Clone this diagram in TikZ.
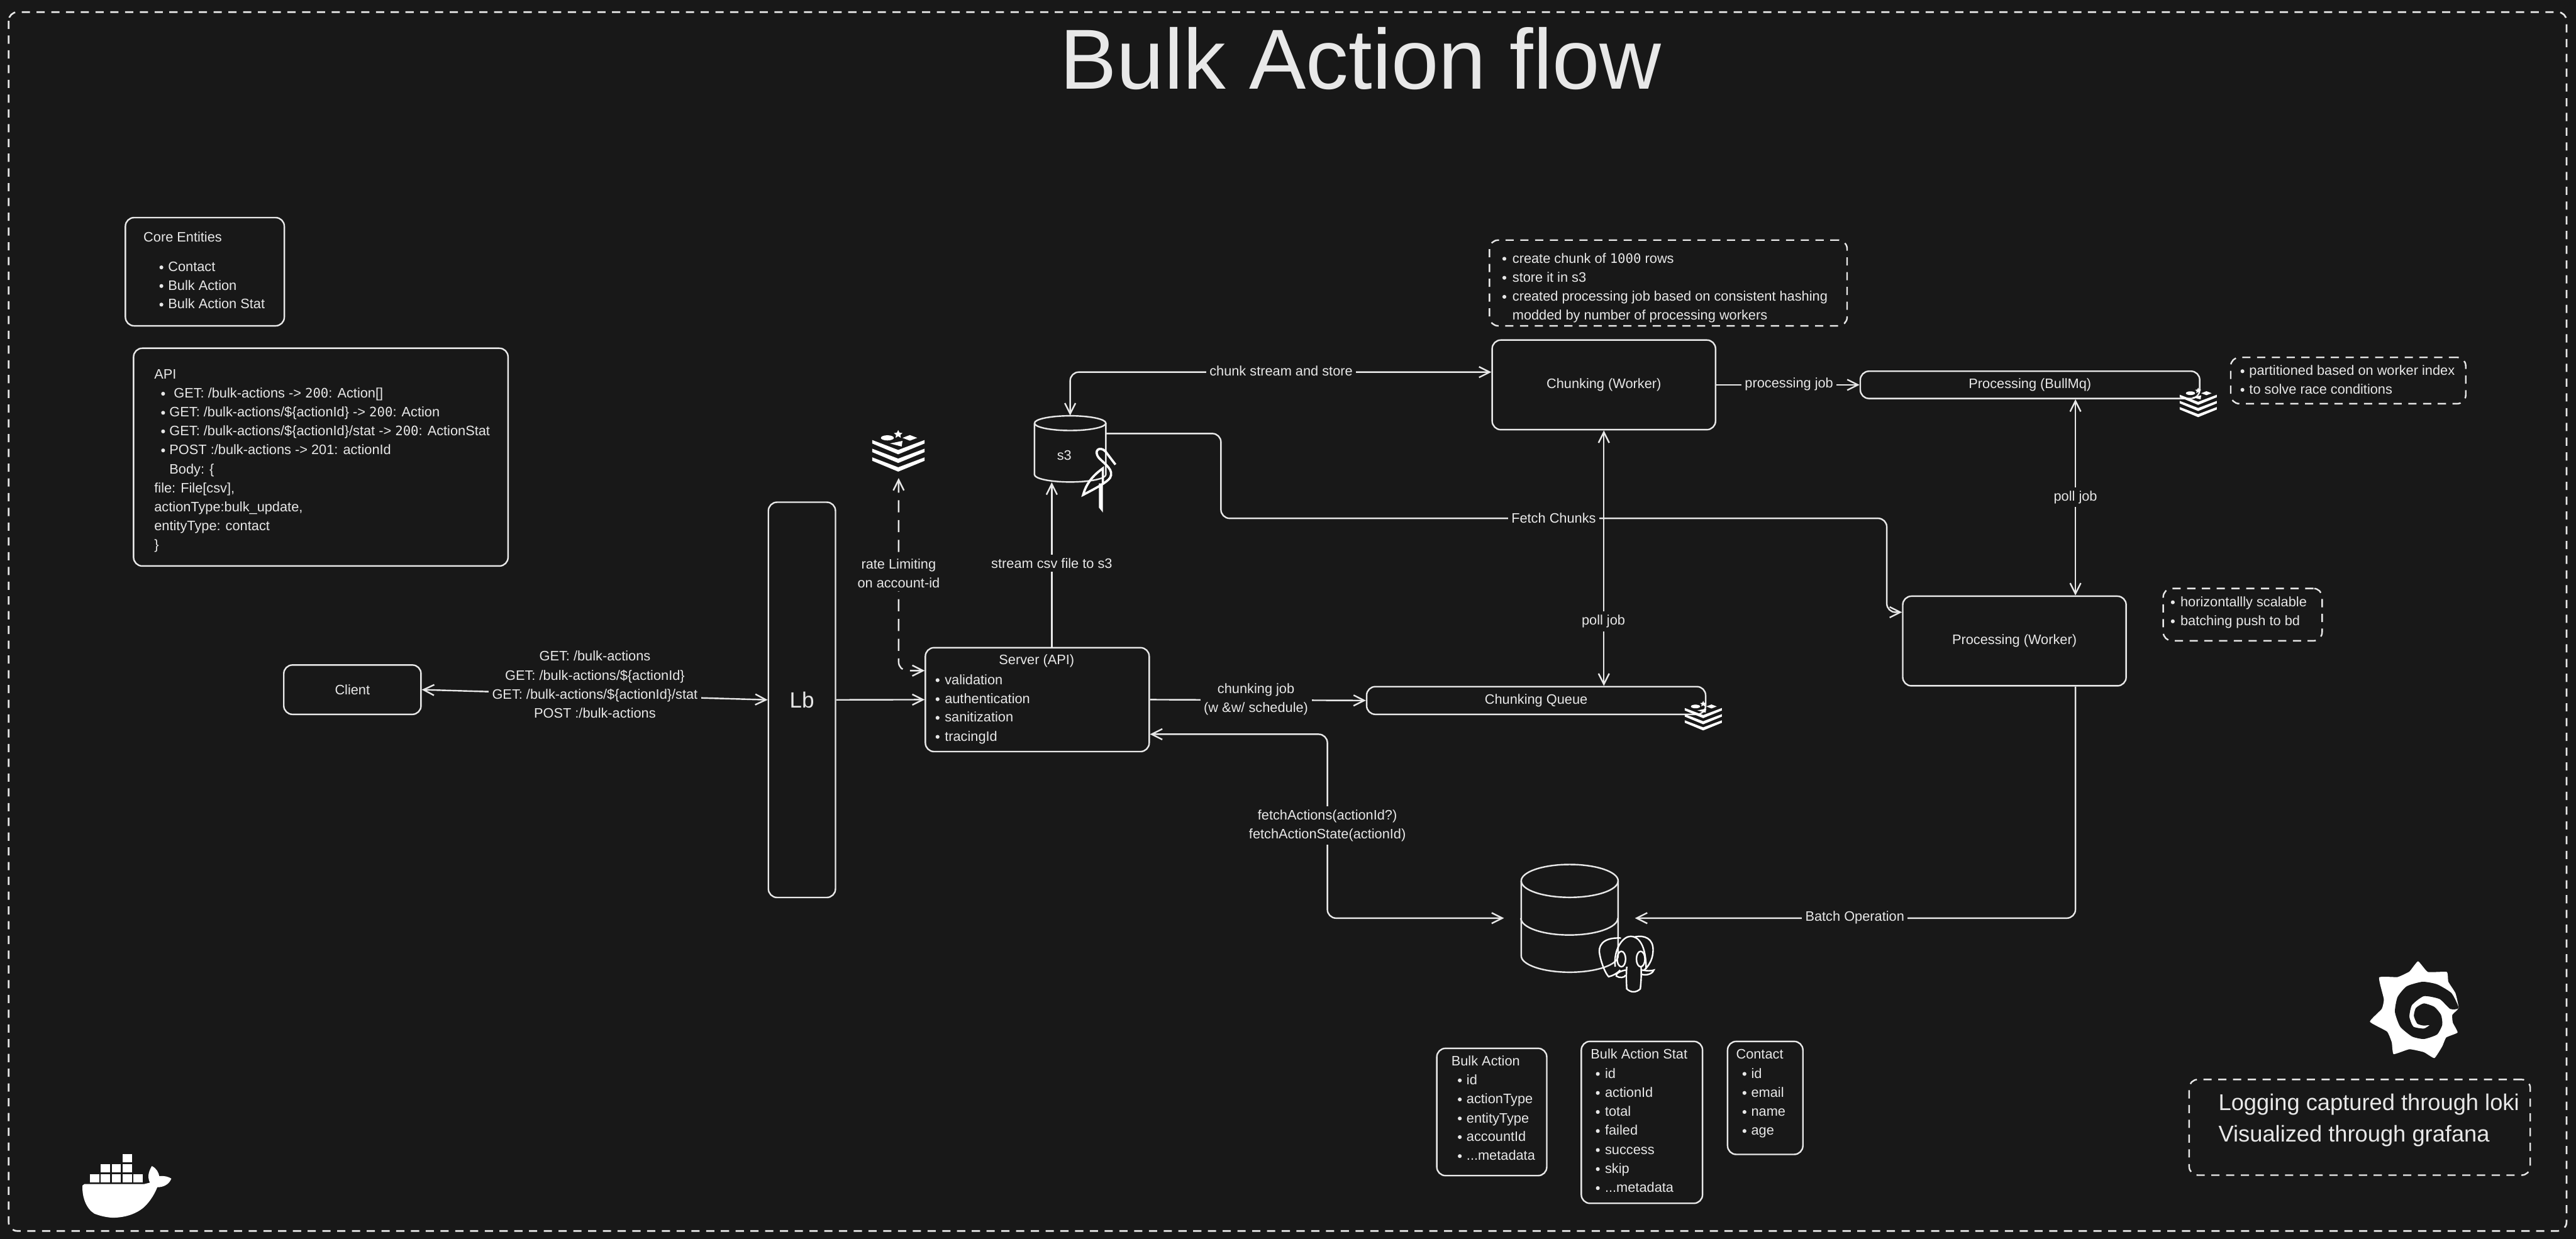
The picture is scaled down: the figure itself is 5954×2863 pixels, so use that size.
\documentclass[tikz,border=0pt]{standalone}
\usepackage{fontspec}
\setmainfont{Liberation Sans}
\newfontfamily\numfont[Scale=0.95]{DejaVu Sans Mono}
\usetikzlibrary{arrows.meta}
\definecolor{bgdark}{RGB}{24,24,24}
\definecolor{ink}{RGB}{232,232,232}
\newcommand\zr[1]{{\numfont #1}}
\tikzset{
  redisicon/.pic={
    \foreach \d in {0,20,40} {
      \fill[white] (0,23+\d) -- (60,46+\d) -- (121,23+\d) -- (121,31+\d) -- (60,56+\d) -- (0,31+\d) -- cycle;
    }
    \fill[white] (60,0) -- (63,6) -- (70,7) -- (65,11) -- (66,18) -- (60,14) -- (54,18) -- (55,11) -- (50,7) -- (57,6) -- cycle;
    \fill[white] (35,18) ellipse (15 and 6);
    \fill[white] (70,18) -- (87,11.5) -- (104,18) -- (87,24.5) -- cycle;
    \fill[white] (70,25) -- (41,31) -- (68,38) -- cycle;
  }
}

\begin{document}
\begin{tikzpicture}[x=0.01cm,y=-0.01cm,every node/.style={text=ink,font=\fontsize{9}{12.5}\selectfont},
  box/.style={draw=ink,line width=1pt,rounded corners=0.2cm,inner sep=0pt},
  note/.style={box,dash pattern=on 5.4pt off 4.3pt},
  txt/.style={anchor=west,inner sep=0pt,text height=0.75em,text depth=0.2em},
  lab/.style={fill=bgdark,inner sep=0.08cm,align=center},
  flow/.style={draw=ink,line width=1pt,rounded corners=0.2cm},
  drum/.style={draw=ink,line width=1pt},
  >={Straight Barb[length=7pt,width=7pt]}]
  \fill[bgdark] (0,0) rectangle (5954,2863);
  \draw[note,line width=1.1pt] (20,28) rectangle (5932,2845);
  \node[anchor=base,font=\fontsize{56}{60}\selectfont] (title) at (3145,205) {Bulk Action flow};

  \node[box,minimum width=3.67cm,minimum height=2.5cm] (core) at (473.5,628) {};
  \node[txt] (coretitle) at (331,549) {Core Entities};
  \foreach \y/\lab [count=\i] in {618/Contact,661/Bulk Action,704/Bulk Action Stat} {
    \fill[ink] (373,\y) circle (4.5);
    \node[txt] (core\i) at (388,\y) {\lab};
  }

  \node[box,minimum width=8.65cm,minimum height=5.03cm] (api) at (741.5,1056.5) {};
  \foreach \y/\x/\lab [count=\i] in {866/356/API,1085/391/{Body: \{},1129/356/{file: File[csv],},1173/356/{actionType:bulk\_update,},1216/356/{entityType: contact},1260/356/\}} {
    \node[txt] (apiplain\i) at (\x,\y) {\lab};
  }
  \foreach \y/\x/\lab [count=\i] in {910/401/{GET: /bulk-actions -> \zr{200}: Action[]},954/391/{GET: /bulk-actions/\$\{actionId\} -> \zr{200}: Action},997/391/{GET: /bulk-actions/\$\{actionId\}/stat -> \zr{200}: ActionStat},1041/391/{POST :/bulk-actions -> 201: actionId}} {
    \fill[ink] (377,\y) circle (4.5);
    \node[txt] (apiget\i) at (\x,\y) {\lab};
  }

  \node[box,minimum width=3.17cm,minimum height=1.14cm] (client) at (814.5,1594) {Client};
  \node[box,minimum width=1.55cm,minimum height=9.13cm,font=\fontsize{14.5}{16}\selectfont] (lb) at (1853.5,1617.5) {Lb};
  \node[box,minimum width=5.17cm,minimum height=2.4cm] (server) at (2397.5,1617) {};
  \node (servertitle) at (2396,1527) {Server (API)};
  \foreach \y/\lab [count=\i] in {1572/validation,1616/authentication,1659/sanitization,1703/tracingId} {
    \fill[ink] (2167,\y) circle (4.5);
    \node[txt] (server\i) at (2183,\y) {\lab};
  }

  \draw[flow,<->] (client.east) -- (lb.west);
  \node[lab] (clientlab) at (1375,1582) {GET: /bulk-actions\\GET: /bulk-actions/\$\{actionId\}\\GET: /bulk-actions/\$\{actionId\}/stat\\POST :/bulk-actions};
  \draw[flow,->] (lb.east) -- (server.west);

  \pic[scale=1] at (2016,994) {redisicon};
  \coordinate (redistip) at (2077,1105);
  \coordinate (rateend) at (2139,1550);
  \draw[flow,<->,dash pattern=on 8pt off 5pt] (server.west |- rateend) -- (redistip |- rateend) -- (redistip);
  \node[lab] (ratelab) at (2077,1325) {rate Limiting\\on account-id};

  \node[minimum width=1.65cm,minimum height=1.53cm,inner sep=0pt] (s3) at (2473.5,1037.5) {};
  \draw[drum] (2391,978) arc[start angle=180,end angle=-180,x radius=82.5,y radius=17];
  \draw[drum] (2391,978) -- (2391,1097) arc[start angle=180,end angle=0,x radius=82.5,y radius=17] -- (2556,978);
  \node (s3lab) at (2460,1052) {s3};
  \begin{scope}[shift={(1900,500)},xscale=0.829,yscale=0.51]
    \draw[white,line width=1.5pt] (818,1125) -- (790,1065) .. controls (775,1040) and (755,1060) .. (772,1095) .. controls (790,1125) and (815,1150) .. (803,1185) .. controls (795,1205) and (760,1235) .. (728,1262) .. controls (735,1220) and (750,1180) .. (783,1142) -- (783,1210);
    \fill[white] (772,1210) -- (783,1210) -- (783,1342) -- (772,1320) -- cycle;
  \end{scope}
  \coordinate (streamc) at (2431,1302);
  \draw[flow,->] (streamc |- server.north) -- (streamc |- s3.south);
  \node[lab] (streamlab) at (streamc) {stream csv file to s3};

  \node[box,minimum width=5.16cm,minimum height=2.07cm] (worker) at (3707,889.5) {Chunking (Worker)};
  \node[note,minimum width=8.26cm,minimum height=1.98cm] (workernote) at (3856,654) {};
  \foreach \y/\lab [count=\i] in {598/{create chunk of \zr{1000} rows},642/store it in s3,686/created processing job based on consistent hashing} {
    \fill[ink] (3477,\y) circle (4.5);
    \node[txt] (worker\i) at (3495,\y) {\lab};
  }
  \node[txt] (worker4) at (3495,729) {modded by number of processing workers};

  \coordinate (storec) at (2473.5,860);
  \draw[flow,<->] (worker.west |- storec) -- (storec) -- (s3.north);
  \node[lab] (storelab) at (2961,857) {chunk stream and store};

  \node[box,minimum width=7.84cm,minimum height=0.63cm] (bullmq) at (4692,889.5) {Processing (BullMq)};
  \pic[scale=0.71] at (5038,896) {redisicon};
  \node[note,minimum width=5.43cm,minimum height=1.07cm] (bullnote) at (5427.5,879.5) {};
  \foreach \y/\lab [count=\i] in {858/partitioned based on worker index,901/to solve race conditions} {
    \fill[ink] (5183,\y) circle (4.5);
    \node[txt] (bull\i) at (5198,\y) {\lab};
  }
  \draw[flow,->] (worker.east) -- (bullmq.west);
  \node[lab] (joblab) at (4135,888) {processing job};

  \node[box,minimum width=5.16cm,minimum height=2.07cm] (procworker) at (4656,1481.5) {Processing (Worker)};
  \node[note,minimum width=3.67cm,minimum height=1.21cm] (procnote) at (5183.5,1420.5) {};
  \foreach \y/\lab [count=\i] in {1392/horizontallly scalable,1436/batching push to bd} {
    \fill[ink] (5022,\y) circle (4.5);
    \node[txt] (proc\i) at (5039,\y) {\lab};
  }
  \coordinate (pollc) at (4797,1149);
  \draw[flow,<->] (pollc |- bullmq.south) -- (pollc |- procworker.north);
  \node[lab] (pollblab) at (pollc) {poll job};

  \node[box,minimum width=7.83cm,minimum height=0.64cm] (queue) at (3550.5,1619) {Chunking Queue};
  \pic[scale=0.71] at (3894,1620) {redisicon};
  \draw[flow,->] (server.east) -- (queue.west);
  \node[lab] (chunklab) at (2903,1616) {chunking job\\(w \&w/ schedule)};
  \draw[flow,<->] (worker.south) -- (worker.south |- queue.north);
  \node[lab] (pollalab) at (3706,1436) {poll job};

  \coordinate (fetcha) at (2822,1002);
  \coordinate (fetchb) at (4361,1415);
  \coordinate (fetchy) at (3591,1198);
  \draw[flow,->] (s3.east |- fetcha) -- (fetcha) -- (fetcha |- fetchy) -- (fetchb |- fetchy) -- (fetchb) -- (procworker.west |- fetchb);
  \node[lab] (fetchlab) at (3591,1197) {Fetch Chunks};

  \node[minimum width=2.24cm,minimum height=2.5cm,inner sep=0pt] (db) at (3628,2122) {};
  \draw[drum] (3516,2036) arc[start angle=180,end angle=-180,x radius=112,y radius=38];
  \draw[drum] (3516,2036) -- (3516,2209) arc[start angle=180,end angle=0,x radius=112,y radius=38] -- (3740,2036);
  \draw[drum] (db.west) arc[start angle=180,end angle=0,x radius=112,y radius=39];
  \begin{scope}[shift={(2800,1500)},xscale=0.893,yscale=0.51,draw=white,line width=1pt]
    \draw (1060,1310) .. controls (1010,1305) and (1000,1350) .. (1005,1385) .. controls (1010,1430) and (1020,1470) .. (1028,1485) .. controls (1040,1480) and (1050,1470) .. (1058,1455);
    \draw (1045,1440) .. controls (1040,1360) and (1065,1302) .. (1085,1302) .. controls (1105,1302) and (1125,1340) .. (1125,1450);
    \draw (1095,1305) .. controls (1120,1295) and (1145,1310) .. (1143,1370) .. controls (1142,1410) and (1130,1440) .. (1120,1455);
    \draw (1115,1455) .. controls (1130,1460) and (1140,1458) .. (1145,1455) .. controls (1140,1475) and (1125,1480) .. (1113,1474);
    \draw (1072,1455) .. controls (1055,1460) and (1045,1475) .. (1048,1482) .. controls (1055,1492) and (1070,1490) .. (1072,1478);
    \draw (1075,1440) .. controls (1073,1480) and (1074,1510) .. (1075,1540) .. controls (1085,1558) and (1100,1558) .. (1110,1540) .. controls (1112,1510) and (1113,1480) .. (1112,1440);
    \draw (1061,1405) ellipse (11 and 35);
    \draw (1111,1405) ellipse (11 and 35);
  \end{scope}

  \coordinate (fetchc) at (3068,1697);
  \draw[flow,<->,shorten >=0.39cm] (server.east |- fetchc) -- (fetchc) -- (fetchc |- db.west) -- (db.west);
  \node[lab] (fetchactlab) at (3068,1908) {fetchActions(actionId?)\\fetchActionState(actionId)};
  \draw[flow,->,shorten >=0.38cm] (pollc |- procworker.south) -- (pollc |- db.east) -- (db.east);
  \node[lab] (batchlab) at (4287,2120) {Batch Operation};

  \node[box,minimum width=2.54cm,minimum height=2.94cm] (bulkaction) at (3448,2570) {};
  \node[txt] (actiontitle) at (3354,2453) {Bulk Action};
  \foreach \y/\lab [count=\i] in {2497/id,2541/actionType,2585/entityType,2628/accountId,2672/{...metadata}} {
    \fill[ink] (3374,\y) circle (4.5);
    \node[txt] (action\i) at (3389,\y) {\lab};
  }
  \node[box,minimum width=2.8cm,minimum height=3.74cm] (bulkstat) at (3795,2594) {};
  \node[txt] (stattitle) at (3676,2438) {Bulk Action Stat};
  \foreach \y/\lab [count=\i] in {2482/id,2526/actionId,2570/total,2614/failed,2658/success,2702/skip,2746/{...metadata}} {
    \fill[ink] (3693,\y) circle (4.5);
    \node[txt] (stat\i) at (3709,\y) {\lab};
  }
  \node[box,minimum width=1.74cm,minimum height=2.61cm] (contact) at (4080,2537.5) {};
  \node[txt] (contacttitle) at (4012,2438) {Contact};
  \foreach \y/\lab [count=\i] in {2482/id,2526/email,2570/name,2614/age} {
    \fill[ink] (4032,\y) circle (4.5);
    \node[txt] (contact\i) at (4047,\y) {\lab};
  }

  \begin{scope}[shift={(5000,2150)},xscale=0.6084,yscale=0.4545]
    \fill[white] plot[smooth cycle,tension=0.25] coordinates {(968,158) (1005,212) (1077,212) (1083,262) (1110,320) (1122,395) (1098,430) (1100,470) (1118,520) (1075,545) (1060,590) (1030,650) (990,620) (935,605) (875,630) (868,570) (850,515) (785,465) (830,400) (838,350) (820,240) (890,238) (935,210)};
    \fill[bgdark] plot[smooth cycle,tension=0.35] coordinates {(1122,395) (1095,320) (1040,275) (985,262) (925,285) (890,340) (880,415) (900,490) (945,540) (990,553) (1040,530) (1060,480) (1055,430) (1030,390) (990,372) (960,395) (952,435) (965,475) (990,485) (1012,482) (990,500) (950,490) (935,440) (945,380) (990,335) (1050,350) (1090,400)};
  \end{scope}
  \node[note,minimum width=7.88cm,minimum height=2.21cm] (lognote) at (5454,2605.5) {};
  \node[txt,font=\fontsize{15}{18}\selectfont] (log1) at (5127,2556) {Logging captured through loki};
  \node[txt,font=\fontsize{15}{18}\selectfont] (log2) at (5127,2630) {Visualized through grafana};

  \begin{scope}[shift={(0,2550)},xscale=0.3827,yscale=0.3333]
    \foreach \x/\y in {543/490,608/490,675/490,740/490,806/490,608/420,675/420,740/420,740/351} {
      \fill[white] (\x,\y) rectangle (\x+56,\y+58);
    }
    \fill[white] (498,570) -- (510,560) -- (870,560) -- (905,550) .. controls (885,500) and (905,460) .. (917,435) .. controls (945,450) and (958,480) .. (962,505) .. controls (990,500) and (1020,510) .. (1035,522) .. controls (1020,565) and (985,582) .. (950,582) .. controls (920,670) and (870,720) .. (870,720) .. controls (820,770) and (750,793) .. (680,793) .. controls (620,790) and (570,765) .. (570,765) .. controls (520,730) and (495,650) .. (498,570) -- cycle;
  \end{scope}
\end{tikzpicture}
\end{document}
